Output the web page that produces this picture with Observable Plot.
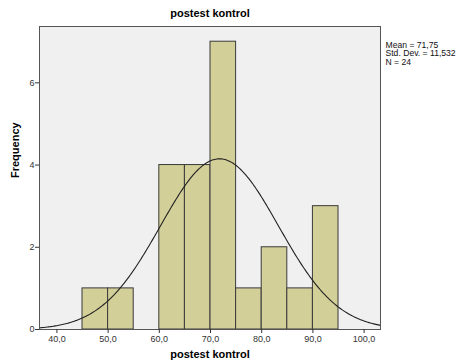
<!DOCTYPE html>
<html>
<head>
<meta charset="utf-8">
<script src="https://cdn.jsdelivr.net/npm/d3@7"></script>
<script src="https://cdn.jsdelivr.net/npm/@observablehq/plot@0.6"></script>
<style>
  body { margin: 0; background: #ffffff; }
  svg { display: block; }
</style>
</head>
<body>
<div id="chart"></div>
<script>
// Histogram bins (lower edge, upper edge) and frequencies
const binStart = [45, 50, 60, 65, 70, 75, 80, 85, 90];
const binEnd   = [50, 55, 65, 70, 75, 80, 85, 90, 95];
const freq     = [1, 1, 4, 4, 7, 1, 2, 1, 3];
// Summary statistics shown in the legend
const meanVal = 71.75;
const sdVal = 11.532;
const nVal = 24;
const binWidth = 5;
const xTicks = [40, 50, 60, 70, 80, 90, 100];
const yTicks = [0, 2, 4, 6];

const bins = binStart.map((s, i) => ({x1: s, x2: binEnd[i], y: freq[i]}));

const xDomain = [36.6, 103.2];
const curve = d3.range(0, 301).map(i => {
  const x = xDomain[0] + (xDomain[1] - xDomain[0]) * i / 300;
  const z = (x - meanVal) / sdVal;
  return {x, y: nVal * binWidth * Math.exp(-0.5 * z * z) / (sdVal * Math.sqrt(2 * Math.PI))};
});

const fmt = d => d.toFixed(1).replace(".", ",");
const comma = (v, n) => v.toFixed(n).replace(".", ",");
const legendText = `Mean = ${comma(meanVal, 2)}\nStd. Dev. = ${comma(sdVal, 3)}\nN = ${nVal}`;

const chart = Plot.plot({
  width: 458,
  height: 362,
  marginLeft: 39,
  marginRight: 78,
  marginTop: 26,
  marginBottom: 33,
  style: {fontFamily: "'Liberation Sans', Arial, sans-serif", fontSize: "9px", color: "#222", background: "#ffffff"},
  x: {domain: xDomain, ticks: xTicks, tickFormat: fmt, tickSize: 4, label: null},
  y: {domain: [0, 7.37], ticks: yTicks, tickFormat: d => String(d), tickSize: 4, label: null},
  marks: [
    Plot.frame({fill: "#f0f0f0", stroke: null}),
    Plot.rect(bins, {x1: "x1", x2: "x2", y1: 0, y2: "y", fill: "#d3cf99", stroke: "#3a3a3a", strokeWidth: 1}),
    Plot.line(curve, {x: "x", y: "y", stroke: "#222", strokeWidth: 1.1, curve: "linear"}),
    Plot.frame({stroke: "#555", strokeWidth: 1}),
    Plot.axisX({ticks: xTicks, tickFormat: fmt, tickSize: 4, tickPadding: 2, label: null, stroke: "#333", fill: "#333"}),
    Plot.axisY({ticks: yTicks, tickFormat: d => String(d), tickSize: 4, tickPadding: 1, label: null, stroke: "#333", fill: "#333"}),
    Plot.text(["postest kontrol"], {frameAnchor: "top", dy: -17, fontWeight: "bold", fontSize: 11, fill: "#000"}),
    Plot.text(["postest kontrol"], {frameAnchor: "bottom", dy: 28, fontWeight: "bold", fontSize: 11, fill: "#000"}),
    Plot.text(["Frequency"], {frameAnchor: "left", dx: -24, rotate: -90, fontWeight: "bold", fontSize: 11, fill: "#000"}),
    Plot.text([legendText], {frameAnchor: "top-right", dx: 5, dy: 15, textAnchor: "start", lineAnchor: "top", lineHeight: 1.0, fontSize: 8.6, fill: "#111"})
  ]
});
document.getElementById("chart").appendChild(chart);
</script>
</body>
</html>
